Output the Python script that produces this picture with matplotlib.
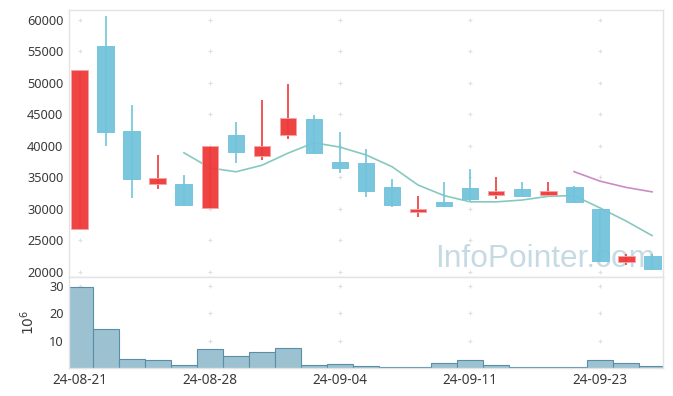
import numpy as np
import matplotlib
matplotlib.use("Agg")
import matplotlib.pyplot as plt

# trading days (yy-mm-dd)
dates = ["24-08-21", "24-08-22", "24-08-23", "24-08-26", "24-08-27", "24-08-28",
         "24-08-29", "24-08-30", "24-09-02", "24-09-03", "24-09-04", "24-09-05",
         "24-09-06", "24-09-09", "24-09-10", "24-09-11", "24-09-12", "24-09-13",
         "24-09-19", "24-09-20", "24-09-23", "24-09-24", "24-09-25"]

opens = [26850, 55900, 42350, 34000, 33950, 30200, 41700, 38350, 41800, 44250, 37450, 37300,
         33450, 29500, 31150, 33300, 32150, 33150, 32150, 33400, 29900, 21500, 22500]
highs = [52000, 60600, 46450, 38500, 35350, 40000, 43750, 47300, 49800, 44850, 42150, 39450,
         34700, 32100, 34200, 36250, 35100, 34300, 34200, 33650, 29900, 22800, 22800]
lows = [26850, 40000, 31650, 33100, 30650, 30100, 37250, 37750, 41100, 38700, 35650, 31900,
        30250, 28650, 30250, 31200, 31550, 32100, 32150, 31100, 21750, 21050, 20500]
closes = [52000, 42200, 34800, 34850, 30650, 40000, 39100, 40000, 44450, 38900, 36550, 32900,
          30650, 29900, 30500, 31600, 32850, 32100, 32850, 31100, 21750, 22500, 20500]

# moving averages (nan = not drawn)
nan = np.nan
ma5 = [nan, nan, nan, nan, 38900, 36500, 35880, 36920, 38840, 40490, 39800, 38560,
       36690, 33780, 32100, 31110, 31100, 31390, 31980, 32100, 30130, 28060, 25740]
ma20 = [nan] * 19 + [35900, 34390, 33400, 32690]

# volume, millions of shares
volume = [29.8, 14.4, 3.3, 3.0, 1.1, 7.0, 4.4, 5.9, 7.4, 1.1, 1.5, 0.8,
          0.4, 0.4, 2.0, 3.0, 1.1, 0.4, 0.4, 0.4, 3.0, 2.0, 0.8]

UP = "#ee3a3a"
DOWN = "#72c3dc"
TXT = "#3a3a3a"
GRID = "#e0e0e0"
FRAME = "#e3e3e3"

plt.rcParams["font.family"] = ["Noto Sans", "DejaVu Sans"]

W, H = 673, 396
fig = plt.figure(figsize=(W / 100, H / 100), dpi=100)
L, R = 69 / W, 663 / W
ax = fig.add_axes([L, 1 - 277 / H, R - L, (277 - 10) / H])
axv = fig.add_axes([L, 1 - 368 / H, R - L, (368 - 277) / H], sharex=ax)
ax.patch.set_alpha(0)

x = np.arange(len(dates))
o = np.array(opens)
c = np.array(closes)
up = c >= o
cols = [UP if u else DOWN for u in up]

# watermark, kept under the candles
fig.text(655 / W, 1 - 267 / H, "InfoPointer.com", fontsize=22.8, color="#c6dae4",
         family=["Liberation Sans", "DejaVu Sans"],
         ha="right", va="baseline", zorder=-1)

ax.plot(x, ma5, color="#86c9bf", lw=1.2, zorder=2)
ax.plot(x, ma20, color="#c98cc4", lw=1.2, zorder=2)
ax.vlines(x, lows, highs, colors=cols, lw=1.2, zorder=3)
body = np.maximum(np.abs(c - o), 120)
ax.bar(x, body, bottom=np.minimum(o, c), width=0.65, color=cols, alpha=0.95,
       edgecolor=["#f6a3a3" if u else DOWN for u in up], linewidth=0.7, zorder=4)

axv.bar(x, volume, width=1.0, color="#9cc2d2", edgecolor="#5a8ea8", linewidth=0.8, zorder=2)

xt = [0, 5, 10, 15, 20]
yt = list(range(20000, 60001, 5000))
vt = [10, 20, 30]

ax.set_xlim(-0.42, 22.42)
ax.set_ylim(19160, 61590)
axv.set_ylim(0, 33.3)

gx, gy = np.meshgrid(xt, yt)
ax.plot(gx.ravel(), gy.ravel(), "+", color=GRID, ms=3.5, mew=0.8, zorder=1)
gx, gy = np.meshgrid(xt, vt)
axv.plot(gx.ravel(), gy.ravel(), "+", color=GRID, ms=3.5, mew=0.8, zorder=1)

ax.set_yticks(yt)
ax.set_yticklabels([str(v) for v in yt])
axv.set_yticks(vt)
axv.set_xticks(xt)
axv.set_xticklabels([dates[i] for i in xt])
ax.tick_params(axis="x", labelbottom=False, length=0)
ax.tick_params(axis="y", length=0, pad=4, labelsize=9.2, labelcolor=TXT)
axv.tick_params(axis="y", length=0, pad=4, labelsize=9.2, labelcolor=TXT)
axv.tick_params(axis="x", length=0, pad=3.5, labelsize=9.8, labelcolor=TXT)
axv.set_ylabel("$10^6$", fontsize=10, color=TXT)
axv.yaxis.set_label_coords(-0.052, 0.5)

for a in (ax, axv):
    for s in a.spines.values():
        s.set_color(FRAME)
        s.set_linewidth(1)

fig.savefig("out.png", dpi=100)
